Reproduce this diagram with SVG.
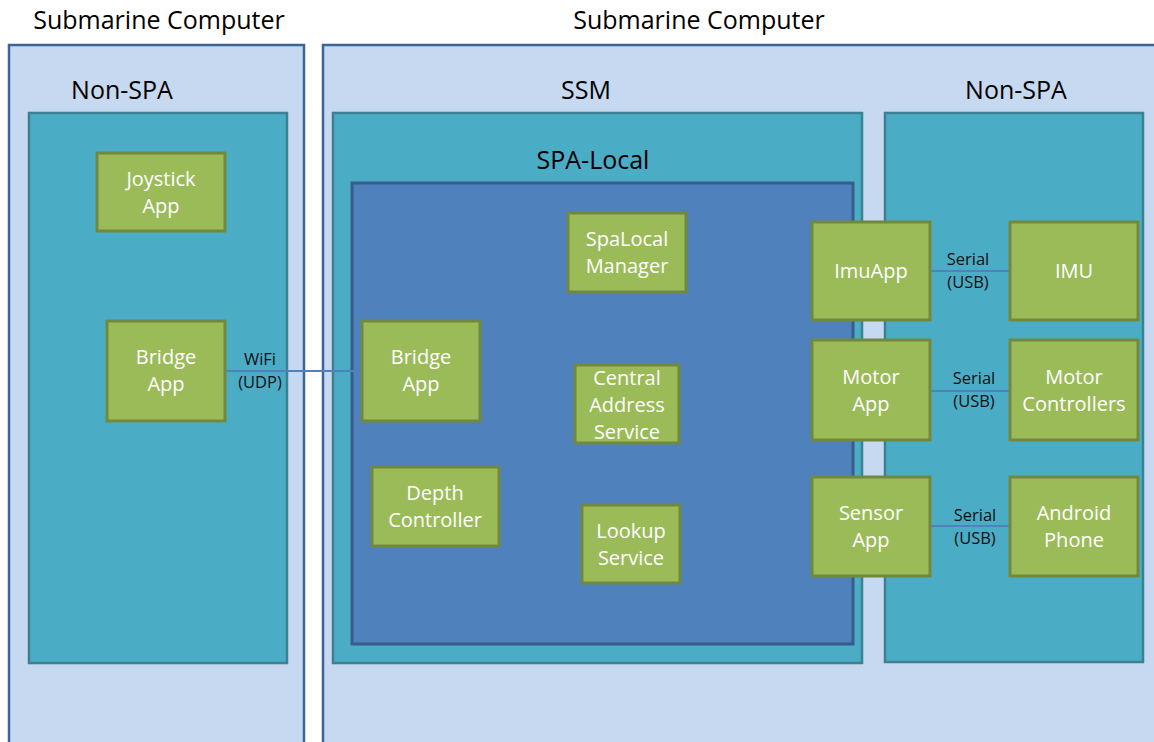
<svg xmlns="http://www.w3.org/2000/svg" width="1154" height="742" viewBox="0 0 1154 742">
  <style>
    .host { fill: #c6d9f0; stroke: #3c6497; stroke-width: 2.5; }
    .zone { fill: #4bacc6; stroke: #3b8193; stroke-width: 2.5; }
    .spa { fill: #4f81bd; stroke: #385d8a; stroke-width: 3; }
    .app rect { fill: #9bbb59; stroke: #71893f; stroke-width: 3; }
    .app text { fill: #ffffff; font-family: "Open Sans", "Liberation Sans", sans-serif; font-size: 20px; text-anchor: middle; }
    .title { fill: #000000; font-family: "Open Sans", "Liberation Sans", sans-serif; font-size: 25px; text-anchor: middle; }
    .link { stroke: #4f81bd; stroke-width: 2; fill: none; }
    .lbl { fill: #111111; font-family: "Open Sans", "Liberation Sans", sans-serif; font-size: 16.5px; text-anchor: middle; }
  </style>
  <rect width="1154" height="742" fill="#ffffff"/>

  <!-- Left computer -->
  <g id="computer-left">
    <rect class="host" x="9" y="45" width="295" height="710"/>
    <text class="title" x="159" y="29">Submarine Computer</text>
    <text class="title" x="122" y="99">Non-SPA</text>
    <rect class="zone" x="29" y="113" width="258" height="550"/>
  </g>

  <!-- Right computer -->
  <g id="computer-right">
    <rect class="host" x="323" y="45" width="845" height="710"/>
    <text class="title" x="699" y="29">Submarine Computer</text>
    <text class="title" x="586" y="99">SSM</text>
    <rect class="zone" x="333" y="113" width="529" height="550"/>
    <text class="title" x="593" y="169">SPA-Local</text>
    <rect class="spa" x="352" y="183" width="501" height="461"/>
    <text class="title" x="1016" y="99">Non-SPA</text>
    <rect class="zone" x="885" y="113" width="258" height="549"/>
  </g>

  <!-- Connectors -->
  <g id="connectors">
    <line class="link" x1="225" y1="371" x2="362" y2="371"/>
    <text class="lbl" x="260" y="365">WiFi</text>
    <text class="lbl" x="260" y="388">(UDP)</text>

    <line class="link" x1="930" y1="271" x2="1010" y2="271"/>
    <text class="lbl" x="968" y="265">Serial</text>
    <text class="lbl" x="968" y="288">(USB)</text>

    <line class="link" x1="930" y1="391" x2="1010" y2="391"/>
    <text class="lbl" x="974" y="384">Serial</text>
    <text class="lbl" x="974" y="407">(USB)</text>

    <line class="link" x1="930" y1="526" x2="1010" y2="526"/>
    <text class="lbl" x="975" y="521">Serial</text>
    <text class="lbl" x="975" y="544">(USB)</text>
  </g>

  <!-- Applications -->
  <g id="joystick-app" class="app">
    <rect x="97" y="153" width="128" height="78"/>
    <text x="161" y="186">Joystick</text>
    <text x="161" y="213">App</text>
  </g>
  <g id="bridge-app-left" class="app">
    <rect x="107" y="321" width="118" height="100"/>
    <text x="166" y="364">Bridge</text>
    <text x="166" y="391">App</text>
  </g>
  <g id="spalocal-manager" class="app">
    <rect x="568" y="213" width="118" height="79"/>
    <text x="627" y="246">SpaLocal</text>
    <text x="627" y="273">Manager</text>
  </g>
  <g id="bridge-app-right" class="app">
    <rect x="362" y="321" width="118" height="100"/>
    <text x="421" y="364">Bridge</text>
    <text x="421" y="391">App</text>
  </g>
  <g id="central-address-service" class="app">
    <rect x="575" y="365" width="104" height="78"/>
    <text x="627" y="385">Central</text>
    <text x="627" y="412">Address</text>
    <text x="627" y="439">Service</text>
  </g>
  <g id="depth-controller" class="app">
    <rect x="372" y="467" width="127" height="79"/>
    <text x="435" y="500">Depth</text>
    <text x="435" y="527">Controller</text>
  </g>
  <g id="lookup-service" class="app">
    <rect x="582" y="505" width="98" height="78"/>
    <text x="631" y="538">Lookup</text>
    <text x="631" y="565">Service</text>
  </g>
  <g id="imu-app" class="app">
    <rect x="812" y="222" width="118" height="98"/>
    <text x="871" y="278">ImuApp</text>
  </g>
  <g id="imu" class="app">
    <rect x="1010" y="222" width="128" height="98"/>
    <text x="1074" y="278">IMU</text>
  </g>
  <g id="motor-app" class="app">
    <rect x="812" y="340" width="118" height="100"/>
    <text x="871" y="384">Motor</text>
    <text x="871" y="411">App</text>
  </g>
  <g id="motor-controllers" class="app">
    <rect x="1010" y="340" width="128" height="100"/>
    <text x="1074" y="384">Motor</text>
    <text x="1074" y="411">Controllers</text>
  </g>
  <g id="sensor-app" class="app">
    <rect x="812" y="477" width="118" height="99"/>
    <text x="871" y="520">Sensor</text>
    <text x="871" y="547">App</text>
  </g>
  <g id="android-phone" class="app">
    <rect x="1010" y="477" width="128" height="99"/>
    <text x="1074" y="520">Android</text>
    <text x="1074" y="547">Phone</text>
  </g>
</svg>
